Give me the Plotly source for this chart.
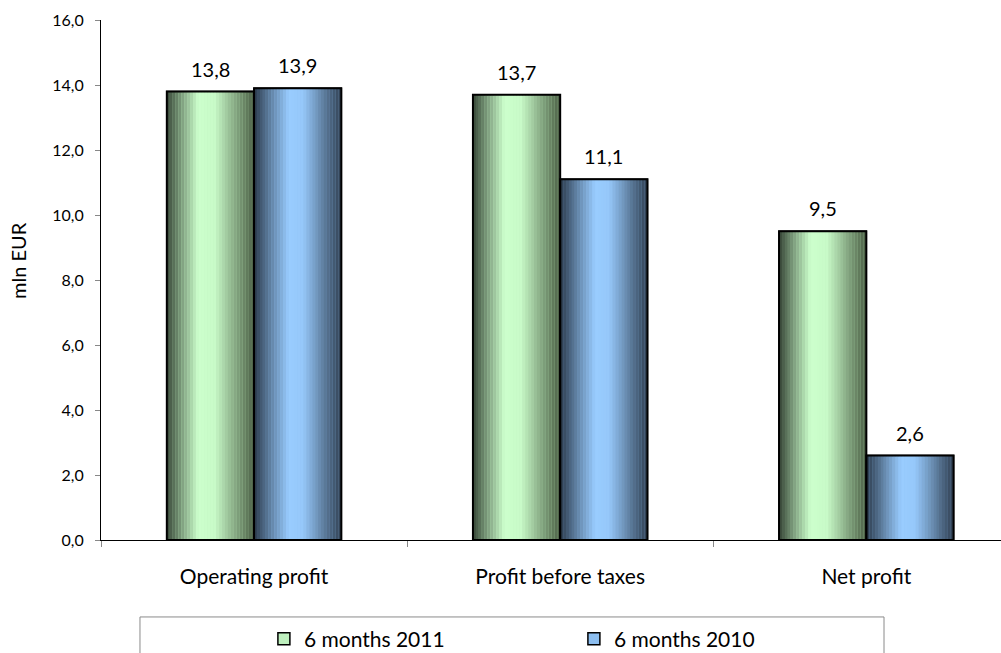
import plotly.graph_objects as go

categories = ["Operating profit", "Profit before taxes", "Net profit"]
series_names = ["6 months 2011", "6 months 2010"]
values_2011 = [13.8, 13.7, 9.5]
values_2010 = [13.9, 11.1, 2.6]
y_ticks = [0, 2, 4, 6, 8, 10, 12, 14, 16]
y_title = "mln EUR"

FONT = "Lato"
BAR_W = 0.285
N_SLICES = 30

# gradient stops: (pos, (r,g,b))
grad_green = [(0.0, (55, 70, 55)), (0.36, (204, 255, 204)), (0.55, (200, 250, 200)), (1.0, (74, 94, 68))]
grad_blue = [(0.0, (44, 60, 78)), (0.40, (153, 204, 255)), (0.56, (150, 200, 250)), (1.0, (48, 64, 82))]


def grad_color(stops, t):
    for (p0, c0), (p1, c1) in zip(stops[:-1], stops[1:]):
        if p0 <= t <= p1:
            f = (t - p0) / (p1 - p0) if p1 > p0 else 0
            c = [round(a + (b - a) * f) for a, b in zip(c0, c1)]
            return "rgb(%d,%d,%d)" % tuple(c)
    return "rgb(%d,%d,%d)" % stops[-1][1]


fig = go.Figure()

series = [
    (series_names[0], values_2011, -BAR_W, grad_green, "rgb(190,240,190)"),
    (series_names[1], values_2010, 0.0, grad_blue, "rgb(140,190,240)"),
]

# legend traces (hidden underneath)
for name, vals, off, stops, solid in series:
    fig.add_trace(go.Bar(
        x=categories, y=vals, name=name, offset=off, width=BAR_W,
        marker=dict(color=solid, line=dict(color="black", width=1.5)),
        showlegend=True, hoverinfo="skip",
    ))

# gradient slices
for name, vals, off, stops, solid in series:
    sw = BAR_W / N_SLICES
    for i in range(N_SLICES):
        t = (i + 0.5) / N_SLICES
        fig.add_trace(go.Bar(
            x=categories, y=vals, offset=off + i * sw, width=sw * 1.05,
            marker=dict(color=grad_color(stops, t), line=dict(width=0)),
            showlegend=False, hoverinfo="skip",
        ))

# outlines
for name, vals, off, stops, solid in series:
    fig.add_trace(go.Bar(
        x=categories, y=vals, offset=off, width=BAR_W,
        marker=dict(color="rgba(0,0,0,0)", line=dict(color="black", width=2)),
        showlegend=False, name=name,
    ))

# data labels
for name, vals, off, stops, solid in series:
    for c, v in zip(categories, vals):
        fig.add_annotation(
            x=c, y=v, xshift=(off + BAR_W / 2) * 306, yshift=9,
            text=("%.1f" % v).replace(".", ","), showarrow=False,
            yanchor="bottom", font=dict(family=FONT, size=20, color="black"),
        )

# y-axis title
fig.add_annotation(
    xref="paper", yref="paper", x=-83 / 900, y=(540 - 261) / 520,
    text=y_title, textangle=-90, showarrow=False,
    xanchor="center", yanchor="middle",
    font=dict(family=FONT, size=20, color="black"),
)

# legend box
fig.add_shape(type="rect", xref="paper", yref="paper",
              x0=0.0433, x1=0.87, y0=-0.148, y1=-0.35,
              line=dict(color="#8a8a8a", width=1), fillcolor="rgba(0,0,0,0)")

fig.update_layout(
    width=1001, height=653,
    margin=dict(l=101, r=0, t=20, b=113, autoexpand=False),
    paper_bgcolor="white", plot_bgcolor="white",
    barmode="overlay",
    separators=", ",
    font=dict(family=FONT, color="black"),
    showlegend=True,
    legend=dict(orientation="h", x=0.181, xanchor="left",
                yref="container", y=14 / 653, yanchor="middle",
                entrywidth=265, font=dict(family=FONT, size=21, color="black"),
                bgcolor="rgba(0,0,0,0)", traceorder="normal"),
    xaxis=dict(
        type="category", range=[-0.5, 2.44], showgrid=False, automargin=False,
        showline=True, linecolor="black", linewidth=1,
        ticks="outside", tickson="boundaries", ticklen=6, tickcolor="#888888",
        tickfont=dict(family=FONT, size=21, color="black"),
        ticklabelstandoff=18,
    ),
    yaxis=dict(
        range=[0, 16], tickvals=y_ticks, tickformat=".1f", showgrid=False,
        automargin=False,
        showline=True, linecolor="black", linewidth=1,
        ticks="outside", ticklen=5, tickcolor="#888888",
        tickfont=dict(family=FONT, size=16, color="black"),
        ticklabelstandoff=8,
        zeroline=False,
    ),
)

fig.write_html("out.html", config={"displayModeBar": False},
               post_script="document.body.style.margin='0';document.body.style.overflow='hidden';")
